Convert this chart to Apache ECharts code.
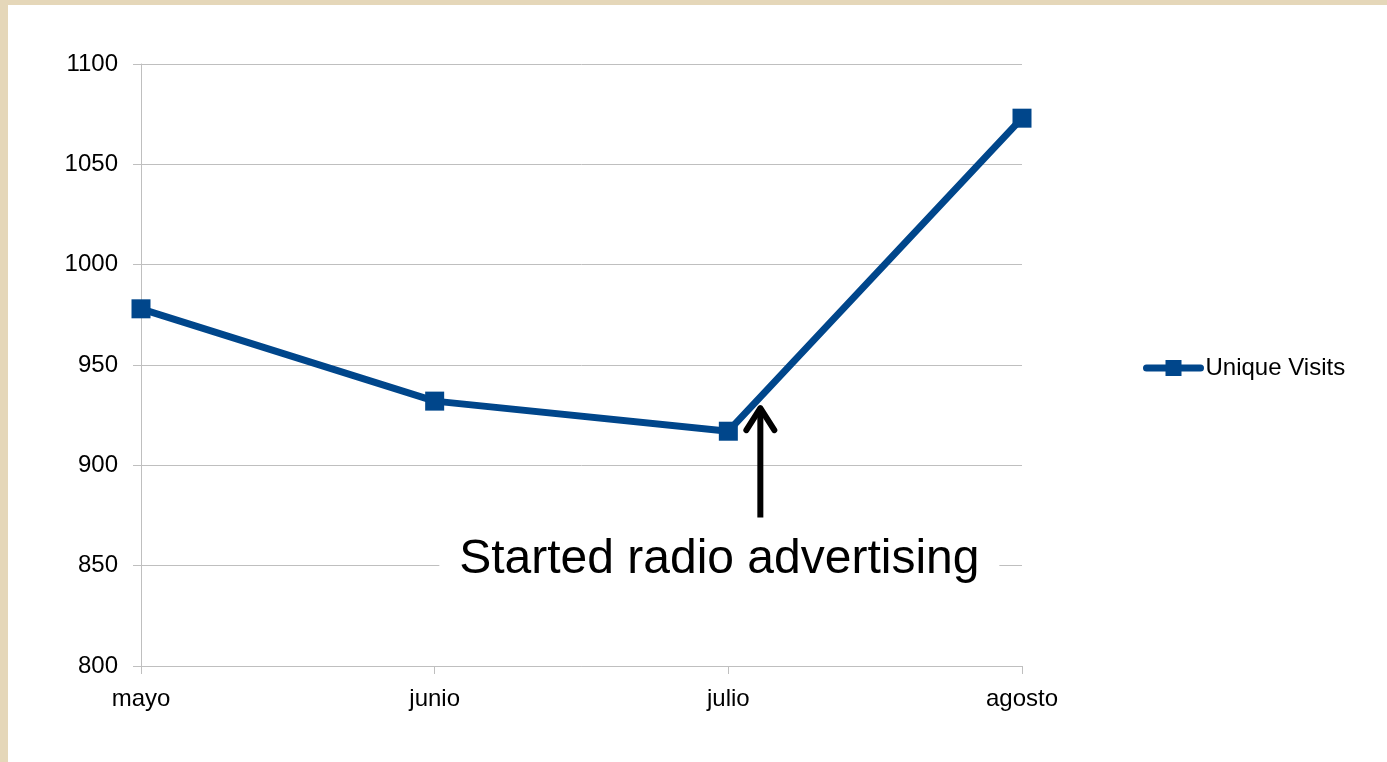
<!DOCTYPE html>
<html>
<head>
<meta charset="utf-8">
<script src="https://cdn.jsdelivr.net/npm/echarts@6/dist/echarts.min.js"></script>
<style>
  html, body { margin: 0; padding: 0; width: 1387px; height: 762px; background: #E5D7B9; overflow: hidden; }
  #chart { position: absolute; left: 8px; top: 5px; width: 1379px; height: 757px; background: #ffffff; }
</style>
</head>
<body>
<div id="chart"></div>
<script>
const categories = ['mayo', 'junio', 'julio', 'agosto'];
const seriesName = 'Unique Visits';
const uniqueVisits = [978, 932, 917, 1073];
const yTicks = { min: 800, max: 1100, interval: 50 };
const annotationText = 'Started radio advertising';

const FONT = 'Liberation Sans, Arial, sans-serif';
const chart = echarts.init(document.getElementById('chart'), null, { renderer: 'canvas' });

const option = {
  backgroundColor: '#ffffff',
  animation: false,
  grid: { left: 133, right: 365, top: 59, bottom: 96, containLabel: false },
  legend: {
    data: [seriesName],
    left: 1130,
    top: 346,
    itemWidth: 54,
    itemHeight: 20,
    lineStyle: { width: 7, cap: 'round', color: '#00468B' },
    textStyle: { fontFamily: FONT, fontSize: 24, color: '#000', padding: [0, 0, 0, 0] }
  },
  xAxis: {
    type: 'category',
    data: categories,
    boundaryGap: false,
    axisLine: { lineStyle: { color: '#BFBFBF', width: 1 } },
    axisTick: { show: true, length: 8, lineStyle: { color: '#BFBFBF' } },
    axisLabel: { margin: 21, fontFamily: FONT, fontSize: 24, color: '#000' },
    splitLine: { show: false }
  },
  yAxis: {
    type: 'value',
    min: yTicks.min,
    max: yTicks.max,
    interval: yTicks.interval,
    axisLine: { show: true, lineStyle: { color: '#BFBFBF', width: 1 } },
    axisTick: { show: true, length: 8, lineStyle: { color: '#BFBFBF' } },
    axisLabel: { margin: 23, fontFamily: FONT, fontSize: 24, color: '#000', formatter: function (v) { return String(v); } },
    splitLine: { show: true, lineStyle: { color: '#BFBFBF', width: 1 } }
  },
  series: [{
    name: seriesName,
    type: 'line',
    data: uniqueVisits,
    symbol: 'rect',
    symbolSize: 19,
    lineStyle: { color: '#00468B', width: 7 },
    itemStyle: { color: '#00468B' },
    z: 5
  }]
};
chart.setOption(option);

// Annotation positioned relative to data coordinates
const tip = chart.convertToPixel({ gridIndex: 0 }, [2, 930]);
const tail = chart.convertToPixel({ gridIndex: 0 }, [2, 874]);
const p2 = chart.convertToPixel({ gridIndex: 0 }, [2, 900]);
const p3 = chart.convertToPixel({ gridIndex: 0 }, [3, 900]);
const dx = (p3[0] - p2[0]) * 0.109;
const ax = tip[0] + dx;
const textPos = chart.convertToPixel({ gridIndex: 0 }, [2, 853]);
const tx = textPos[0] - 9;

chart.setOption({
  graphic: [
    {
      type: 'rect',
      shape: { x: tx - 280, y: textPos[1] - 36, width: 560, height: 64 },
      style: { fill: '#ffffff' },
      z: 10
    },
    {
      type: 'text',
      x: tx,
      y: textPos[1],
      style: {
        text: annotationText,
        fontFamily: FONT,
        fontSize: 48,
        fill: '#000',
        align: 'center',
        verticalAlign: 'middle'
      },
      z: 11
    },
    {
      type: 'line',
      shape: { x1: ax, y1: tail[1], x2: ax, y2: tip[1] + 3 },
      style: { stroke: '#000', lineWidth: 6 },
      z: 11
    },
    {
      type: 'polyline',
      shape: { points: [[ax - 14, tip[1] + 25], [ax, tip[1] + 3], [ax + 14, tip[1] + 25]] },
      style: { stroke: '#000', lineWidth: 6, lineCap: 'round', lineJoin: 'round', fill: null },
      z: 11
    }
  ]
});
</script>
</body>
</html>
